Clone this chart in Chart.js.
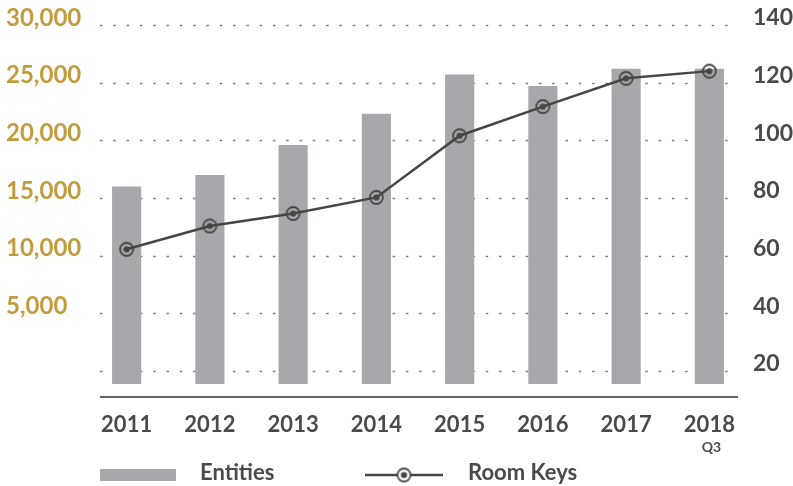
<!DOCTYPE html>
<html>
<head>
<meta charset="utf-8">
<script src="https://cdn.jsdelivr.net/npm/chart.js@4.4.1/dist/chart.umd.min.js"></script>
<style>
  html, body { margin: 0; padding: 0; background: #fff; }
  #wrap { width: 793px; height: 486px; position: relative; }
</style>
</head>
<body>
<div id="wrap"><canvas id="chartKeys"></canvas></div>
<script>
// data
const years = ["2011", "2012", "2013", "2014", "2015", "2016", "2017", "2018"];
const subLabels = ["", "", "", "", "", "", "", "Q3"];
const entities = [16000, 17000, 19600, 22300, 25700, 24700, 26200, 26200];
const roomKeys = [62.2, 70.3, 74.6, 80.2, 101.6, 111.7, 121.5, 124];
const leftTicks = [0, 5000, 10000, 15000, 20000, 25000, 30000];
const rightTicks = [20, 40, 60, 80, 100, 120, 140];

const GOLD = "#c29c3c";
const DARK = "#4a4a4a";
const BAR = "#a7a8ab";
const LINE = "#464646";
const FONT = "Lato, 'Open Sans', sans-serif";

// bars start a bit under zero, both axes kept in step (120 right = 30000 left)
const leftMin = -1130;
const rightMin = 20 + leftMin / 250;

// ring + dot marker
function makeMarker(r) {
  const c = document.createElement("canvas");
  const s = Math.ceil(r * 2 + 4);
  c.width = s; c.height = s;
  const g = c.getContext("2d");
  g.strokeStyle = LINE;
  g.lineWidth = 1.8;
  g.beginPath(); g.arc(s / 2, s / 2, r, 0, Math.PI * 2); g.stroke();
  g.fillStyle = LINE;
  g.beginPath(); g.arc(s / 2, s / 2, r * 0.48, 0, Math.PI * 2); g.fill();
  return c;
}
const marker = makeMarker(6.5);

const decor = {
  id: "decor",
  beforeDatasetsDraw(chart) {
    const { ctx, chartArea, scales } = chart;
    const x0 = chartArea.left + 15, x1 = chartArea.right - 13;
    ctx.save();
    ctx.strokeStyle = "#7c7c7c";
    ctx.lineWidth = 1.6;
    ctx.setLineDash([2.5, 10.8]);
    scales.yL.ticks.forEach((t) => {
      const y = Math.round(scales.yL.getPixelForValue(t.value)) + 0.5;
      ctx.beginPath(); ctx.moveTo(x0, y); ctx.lineTo(x1, y); ctx.stroke();
    });
    ctx.restore();
  },
  afterDraw(chart) {
    const { ctx, chartArea, scales } = chart;
    ctx.save();
    // axis line under the bars
    ctx.strokeStyle = "#666";
    ctx.lineWidth = 2;
    ctx.beginPath();
    ctx.moveTo(chartArea.left + 15, chartArea.bottom + 13);
    ctx.lineTo(chartArea.right - 13, chartArea.bottom + 13);
    ctx.stroke();

    // small second line under the year
    ctx.fillStyle = DARK;
    ctx.font = "bold 14px " + FONT;
    ctx.textAlign = "center";
    ctx.textBaseline = "middle";
    subLabels.forEach((s, i) => {
      if (s) ctx.fillText(s, scales.x.getPixelForValue(i) + 2, chartArea.bottom + 63);
    });

    // legend
    const ly = chartArea.bottom + 91;
    const bar = chart.data.datasets[1], line = chart.data.datasets[0];
    ctx.fillStyle = bar.backgroundColor;
    ctx.fillRect(100, ly - 6, 76, 12);
    ctx.strokeStyle = line.borderColor;
    ctx.lineWidth = 2.5;
    ctx.beginPath(); ctx.moveTo(365, ly); ctx.lineTo(443, ly); ctx.stroke();
    ctx.fillStyle = "#fff";
    ctx.beginPath(); ctx.arc(404, ly, 6.5, 0, Math.PI * 2); ctx.fill();
    ctx.drawImage(marker, 404 - marker.width / 2, ly - marker.height / 2);
    ctx.fillStyle = DARK;
    ctx.font = "bold 22px " + FONT;
    ctx.textAlign = "left";
    ctx.textBaseline = "alphabetic";
    ctx.fillText(bar.label, 200, ly + 5);
    ctx.fillText(line.label, 468, ly + 5);
    ctx.restore();
  },
};

new Chart(document.querySelector("#chartKeys"), {
  type: "bar",
  data: {
    labels: years,
    datasets: [
      {
        type: "line",
        label: "Room Keys",
        data: roomKeys,
        yAxisID: "yR",
        borderColor: LINE,
        borderWidth: 2.5,
        pointStyle: marker,
        pointRadius: 7,
        tension: 0,
        order: 0,
      },
      {
        label: "Entities",
        data: entities,
        yAxisID: "yL",
        backgroundColor: BAR,
        base: leftMin,
        categoryPercentage: 1,
        barPercentage: 0.35,
        order: 1,
      },
    ],
  },
  plugins: [decor],
  options: {
    responsive: true,
    maintainAspectRatio: false,
    animation: false,
    layout: { padding: { top: 25, left: 6, right: 0, bottom: 0 } },
    plugins: {
      legend: { display: false },
      tooltip: { enabled: false },
    },
    scales: {
      x: {
        offset: true,
        grid: { display: false, drawTicks: false },
        border: { display: false },
        ticks: { color: DARK, font: { family: FONT, size: 22, weight: "bold" }, padding: 28, maxRotation: 0 },
        afterFit: (s) => { s.height = 102; },
      },
      yL: {
        position: "left",
        min: leftMin,
        max: 30000,
        afterBuildTicks: (s) => { s.ticks = leftTicks.map((v) => ({ value: v })); },
        grid: { display: false, drawTicks: false },
        border: { display: false },
        ticks: {
          color: GOLD,
          crossAlign: "far",
          labelOffset: -7,
          font: { family: FONT, size: 24, weight: "bold" },
          callback: (v) => (v === 0 ? "" : v.toLocaleString("en-US")),
        },
        afterFit: (s) => { s.width = 79; },
      },
      yR: {
        position: "right",
        min: rightMin,
        max: 140,
        afterBuildTicks: (s) => { s.ticks = rightTicks.map((v) => ({ value: v })); },
        grid: { display: false, drawTicks: false },
        border: { display: false },
        ticks: { color: DARK, padding: 2, crossAlign: "near", labelOffset: -7, font: { family: FONT, size: 23, weight: "bold" } },
        afterFit: (s) => { s.width = 42; },
      },
    },
  },
});
</script>
</body>
</html>
